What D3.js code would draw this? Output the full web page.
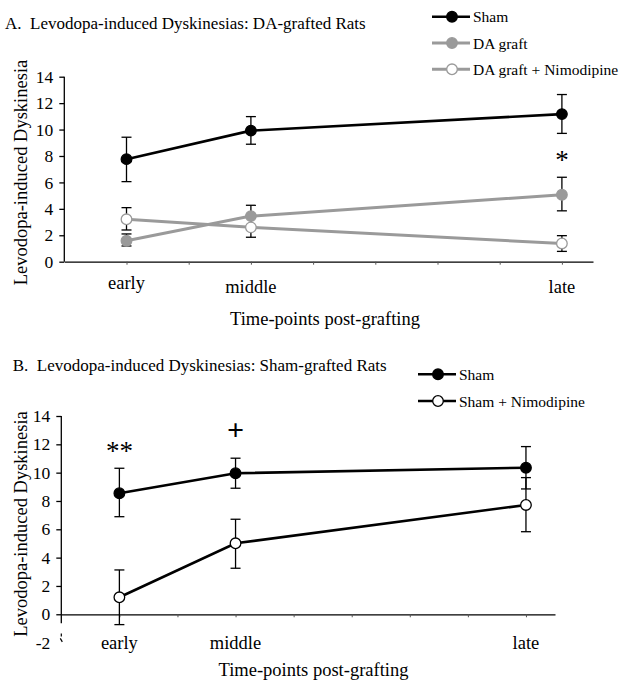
<!DOCTYPE html>
<html><head><meta charset="utf-8">
<script src="https://cdn.jsdelivr.net/npm/d3@7"></script>
<style>
html,body{margin:0;padding:0;background:#fff;}
svg{display:block;font-family:"Liberation Serif","Times New Roman",serif;}
</style></head><body>
<svg id="chart" width="624" height="684"></svg>
<script>
// ---------- data ----------
const categories = ["early", "middle", "late"];
const timePoints = [1, 3, 8];
const minorTicks = [1, 2, 3, 4, 5, 6, 7, 8];
const yTicksA = [0, 2, 4, 6, 8, 10, 12, 14];
const yTicksB = [-2, 0, 2, 4, 6, 8, 10, 12, 14];

const titleA = "A.  Levodopa-induced Dyskinesias: DA-grafted Rats";
const titleB = "B.  Levodopa-induced Dyskinesias: Sham-grafted Rats";
const yAxisTitle = "Levodopa-induced Dyskinesia";
const xAxisTitle = "Time-points post-grafting";

const seriesNamesA = ["Sham", "DA graft", "DA graft + Nimodipine"];
const shamA = [7.76, 9.92, 11.17];
const shamA_lo = [6.06, 8.89, 9.71];
const shamA_hi = [9.42, 10.98, 12.65];
const daGraftA = [1.59, 3.45, 5.07];
const daGraftA_lo = [1.19, 2.62, 3.85];
const daGraftA_hi = [2.10, 4.27, 6.39];
const daNimA = [3.21, 2.60, 1.38];
const daNimA_lo = [2.40, 1.85, 0.78];
const daNimA_hi = [4.09, 3.35, 1.97];

const seriesNamesB = ["Sham", "Sham + Nimodipine"];
const shamB = [8.55, 9.96, 10.35];
const shamB_lo = [6.89, 8.90, 8.85];
const shamB_hi = [10.31, 11.02, 11.84];
const shamNimB = [1.20, 5.01, 7.72];
const shamNimB_lo = [-0.73, 3.25, 5.83];
const shamNimB_hi = [3.13, 6.71, 9.65];

const annotationTextsA = ["*"];
const annotationTimesA = [8];
const annotationValuesA = [8.0];
const annotationTextsB = ["**", "+"];
const annotationTimesB = [1, 3];
const annotationValuesB = [11.8, 13.0];

// ---------- drawing ----------
const FONT = "'Liberation Serif','Times New Roman',serif";
const GRAY = "#9a9a9a";
const svg = d3.select("#chart");

function build(names, vals, los, his, styles) {
  return names.map((n, i) => ({
    name: n, style: styles[i],
    points: timePoints.map((t, j) => ({t, v: vals[i][j], lo: los[i][j], hi: his[i][j]}))
  }));
}

function drawPanel(cfg) {
  const g = svg.append("g");
  const x = d3.scaleLinear().domain([0, 8.5]).range(cfg.xRange);
  const y = d3.scaleLinear().domain(cfg.yDomain).range(cfg.yRange);

  // title
  g.append("text").attr("x", cfg.titleX).attr("y", cfg.titleY)
    .attr("font-size", 17).attr("font-family", FONT).style("white-space", "pre")
    .text(cfg.title);

  // y axis
  const ya = g.append("g").attr("transform", `translate(${x(0)},0)`)
    .call(d3.axisLeft(y).tickValues(cfg.yTicks).tickSize(5).tickPadding(6).tickSizeOuter(0)
      .tickFormat(d => String(d)));
  ya.attr("font-family", FONT).attr("font-size", 17.5);
  ya.select(".domain").remove();
  ya.selectAll(".tick line").attr("stroke", "#000").attr("stroke-width", 1.3)
    .filter(d => d < 0).remove();
  ya.selectAll(".tick text").attr("fill", "#000");
  g.append("line").attr("x1", x(0)).attr("x2", x(0))
    .attr("y1", y(cfg.yAxisTop)).attr("y2", y(cfg.yAxisBottom))
    .attr("stroke", "#000").attr("stroke-width", 1.3);
  if (cfg.breakMark) {
    const bx = x(0), by1 = y(-1.35), by2 = y(-1.95);
    g.append("path").attr("d", `M${bx},${by1} L${bx},${by1 + 3} M${bx - 1},${by1 + 5} L${bx + 1},${by2}`)
      .attr("stroke", "#000").attr("stroke-width", 1.2).attr("fill", "none");
  }

  // x axis
  const xa = g.append("g").attr("transform", `translate(0,${y(0)})`)
    .call(d3.axisBottom(x).tickValues(minorTicks).tickSize(3).tickFormat("").tickSizeOuter(0));
  xa.select(".domain").attr("stroke", "#000").attr("stroke-width", 1.3);
  xa.selectAll(".tick line").attr("stroke", "#555").attr("stroke-width", 1);

  // category labels
  g.selectAll(".cat").data(categories).join("text")
    .attr("x", (d, i) => x(timePoints[i]))
    .attr("y", (d, i) => cfg.catY[i])
    .attr("text-anchor", "middle").attr("font-size", 18.5).attr("font-family", FONT)
    .text(d => d);

  // axis titles
  g.append("text").attr("x", cfg.xTitleX).attr("y", cfg.xTitleY)
    .attr("text-anchor", "middle").attr("font-size", 18.5).attr("font-family", FONT)
    .text(xAxisTitle);
  g.append("text").attr("transform", `translate(27,${cfg.yTitleY}) rotate(-90)`)
    .attr("text-anchor", "middle").attr("font-size", 18.5).attr("font-family", FONT)
    .text(yAxisTitle);

  const line = d3.line().x(p => x(p.t)).y(p => y(p.v));

  // error bars
  cfg.series.forEach(s => {
    const eg = g.append("g").attr("stroke", "#000").attr("stroke-width", 1.3);
    s.points.forEach(p => {
      eg.append("line").attr("x1", x(p.t)).attr("x2", x(p.t)).attr("y1", y(p.lo)).attr("y2", y(p.hi));
      eg.append("line").attr("x1", x(p.t) - 5).attr("x2", x(p.t) + 5).attr("y1", y(p.lo)).attr("y2", y(p.lo));
      eg.append("line").attr("x1", x(p.t) - 5).attr("x2", x(p.t) + 5).attr("y1", y(p.hi)).attr("y2", y(p.hi));
    });
  });
  // lines
  cfg.series.forEach(s => {
    g.append("path").datum(s.points).attr("d", line).attr("fill", "none")
      .attr("stroke", s.style.stroke).attr("stroke-width", s.style.width);
  });
  // markers
  cfg.series.forEach(s => {
    g.selectAll(null).data(s.points).join("circle")
      .attr("cx", p => x(p.t)).attr("cy", p => y(p.v)).attr("r", 5.3)
      .attr("fill", s.style.fill).attr("stroke", s.style.stroke).attr("stroke-width", 1.3);
  });

  // annotations
  cfg.annTexts.forEach((t, i) => {
    const plus = t === "+";
    g.append("text").attr("x", x(cfg.annTimes[i])).attr("y", y(cfg.annValues[i]))
      .attr("dy", plus ? "0.32em" : "0.48em")
      .attr("text-anchor", "middle").attr("font-size", plus ? 30 : 27)
      .attr("font-weight", plus ? "bold" : "normal").attr("font-family", FONT)
      .text(t);
  });

  // legend
  cfg.series.forEach((s, i) => {
    const ly = cfg.legendY + i * cfg.legendStep;
    g.append("line").attr("x1", cfg.legendX).attr("x2", cfg.legendX + 38).attr("y1", ly).attr("y2", ly)
      .attr("stroke", s.style.stroke).attr("stroke-width", s.style.width);
    g.append("circle").attr("cx", cfg.legendX + 20).attr("cy", ly).attr("r", 5.3)
      .attr("fill", s.style.fill).attr("stroke", s.style.stroke).attr("stroke-width", 1.3);
    g.append("text").attr("x", cfg.legendX + 41).attr("y", ly + 5.5)
      .attr("font-size", 15.5).attr("font-family", FONT).text(s.name);
  });
}

const blackFilled = {stroke: "#000", fill: "#000", width: 2.6};
const blackOpen = {stroke: "#000", fill: "#fff", width: 2.6};
const grayFilled = {stroke: GRAY, fill: GRAY, width: 3};
const grayOpen = {stroke: GRAY, fill: "#fff", width: 3};

drawPanel({
  title: titleA, titleX: 5, titleY: 28.5,
  xRange: [64.3, 593], yDomain: [0, 14], yRange: [261.7, 76.7],
  yTicks: yTicksA, yAxisTop: 14, yAxisBottom: 0, breakMark: false,
  catY: [288.5, 293, 293], xTitleX: 325, xTitleY: 325, yTitleY: 172.5,
  series: build(seriesNamesA, [shamA, daGraftA, daNimA], [shamA_lo, daGraftA_lo, daNimA_lo],
    [shamA_hi, daGraftA_hi, daNimA_hi], [blackFilled, grayFilled, grayOpen]),
  annTexts: annotationTextsA, annTimes: annotationTimesA, annValues: annotationValuesA,
  legendX: 432, legendY: 16.7, legendStep: 26.3
});

drawPanel({
  title: titleB, titleX: 12.7, titleY: 370.5,
  xRange: [61.3, 555], yDomain: [-2, 14], yRange: [642.6, 416],
  yTicks: yTicksB, yAxisTop: 14, yAxisBottom: -0.63, breakMark: true,
  catY: [649, 649, 649], xTitleX: 313.5, xTitleY: 676, yTitleY: 524,
  series: build(seriesNamesB, [shamB, shamNimB], [shamB_lo, shamNimB_lo], [shamB_hi, shamNimB_hi],
    [blackFilled, blackOpen]),
  annTexts: annotationTextsB, annTimes: annotationTimesB, annValues: annotationValuesB,
  legendX: 418, legendY: 374.3, legendStep: 26.7
});
</script>
</body></html>
